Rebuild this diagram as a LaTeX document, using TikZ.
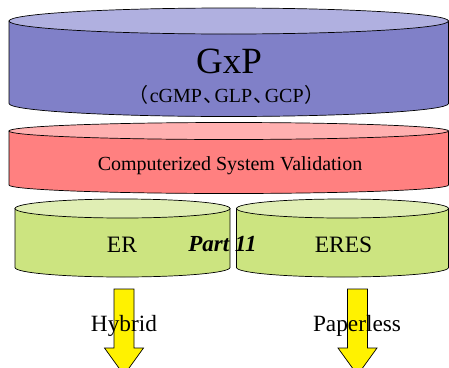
\documentclass[tikz,border=0pt]{standalone}
\usepackage{fontspec}
\setmainfont{Liberation Serif}
\newfontfamily\cjk[RawFeature=+halt]{Noto Sans CJK SC}
\usepackage{tikz}
\definecolor{gxpbody}{RGB}{128,128,200}
\definecolor{gxptop}{RGB}{176,176,224}
\definecolor{csvbody}{RGB}{255,128,128}
\definecolor{csvtop}{RGB}{255,176,176}
\definecolor{erbody}{RGB}{204,228,128}
\definecolor{ertop}{RGB}{224,238,180}

\begin{document}
\begin{tikzpicture}[x=1pt, y=1pt, rim/.style={draw=black, line width=0.7pt}, txt/.style={inner sep=0pt, anchor=base}]
    \useasboundingbox (0,0) rectangle (449,-367);
    \clip (0,0) rectangle (449,-367);
    % drums: left, right, top, bottom, ellipse half height, colours
    \foreach \xl/\xr/\yt/\yb/\ry/\cb/\ct in {9/448.5/21/103.5/13/gxpbody/gxptop, 9/448.5/131/185/8.5/csvbody/csvtop, 15/230/208.5/267.5/9.5/erbody/ertop, 236.5/448.5/208.5/267.5/9.5/erbody/ertop}
    {
        \pgfmathsetmacro{\rx}{(\xr-\xl)/2};
        \pgfmathsetmacro{\cx}{(\xr+\xl)/2};
        \draw [rim, fill=\cb] (\xl,-\yt) -- (\xl,-\yb) arc [start angle=180, end angle=360, x radius=\rx, y radius=\ry] -- (\xr,-\yt) -- cycle;
        \draw [rim, fill=\ct] (\cx,-\yt) ellipse [x radius=\rx, y radius=\ry];
    }
    % yellow arrows
    \foreach \ax in {124, 357.5}
        \draw [rim, fill=yellow] (\ax-10,-289) -- (\ax+10,-289) -- (\ax+10,-348) -- (\ax+19.5,-348) -- (\ax,-375) -- (\ax-19.5,-348) -- (\ax-10,-348) -- cycle;
    \node [txt, font=\fontsize{37}{37}\selectfont] (gxp) at (229,-73) {GxP};
    \node [txt, font=\fontsize{20}{20}\selectfont] (gxpsub) at (226.5,-102) {{\cjk （}\hspace{1.5pt}cGMP\hspace{1pt}{\cjk 、}\hspace{1.5pt}GLP\hspace{1pt}{\cjk 、}\hspace{1.5pt}GCP\hspace{1pt}{\cjk ）}};
    \node [txt, font=\fontsize{20}{20}\selectfont] (csv) at (230,-170) {Computerized System Validation};
    \node [txt, font=\fontsize{23.5}{23.5}\selectfont] (er) at (122,-252) {ER};
    \node [txt, font=\fontsize{23}{23}\selectfont\bfseries\itshape] (part) at (222.5,-251) {Part 11};
    \node [txt, font=\fontsize{23.5}{23.5}\selectfont] (eres) at (343.5,-252) {ERES};
    \node [txt, font=\fontsize{23.3}{23.3}\selectfont] (hybrid) at (124,-331.5) {Hybrid};
    \node [txt, font=\fontsize{23.3}{23.3}\selectfont] (paperless) at (357,-331.5) {Paperless};
\end{tikzpicture}
\end{document}
